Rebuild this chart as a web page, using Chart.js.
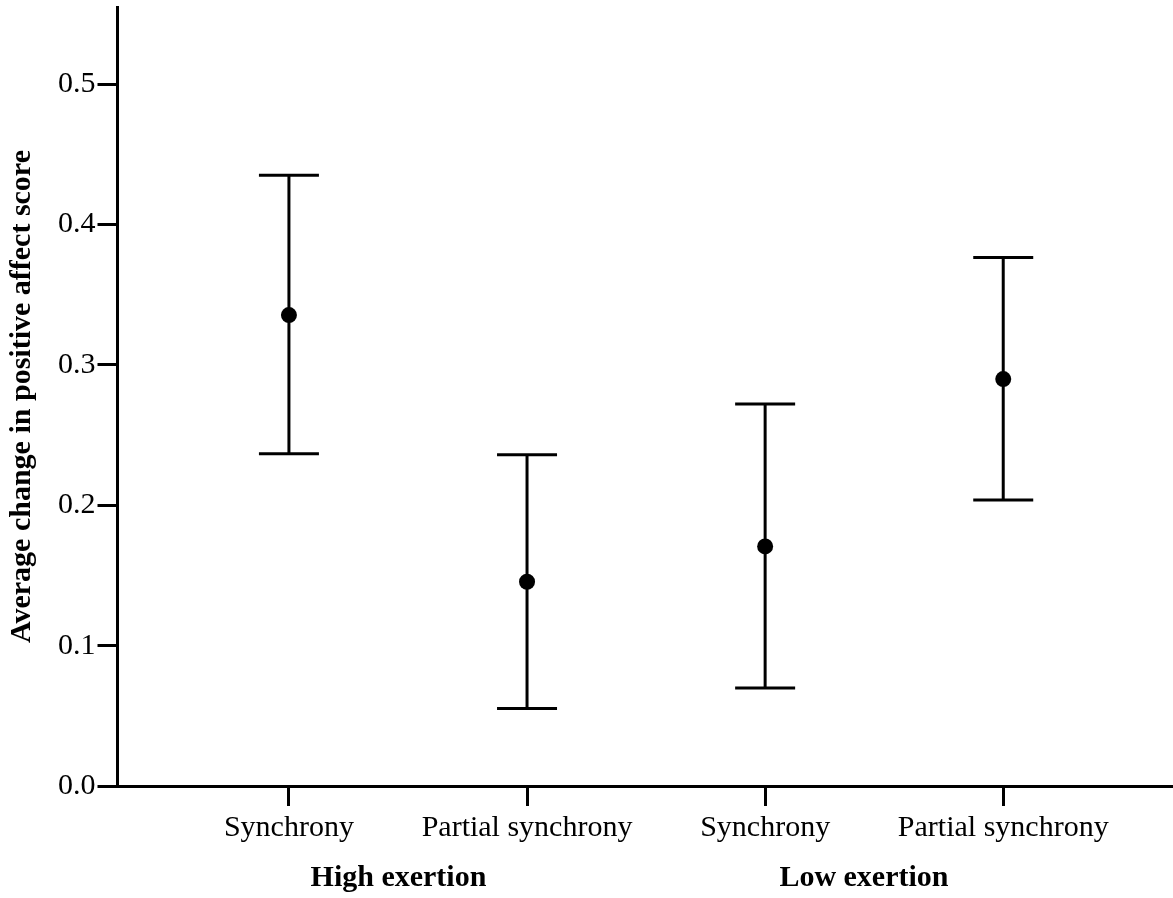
<!DOCTYPE html>
<html>
<head>
<meta charset="utf-8">
<script src="https://cdn.jsdelivr.net/npm/chart.js@4.4.1/dist/chart.umd.min.js"></script>
<style>
    html, body { margin: 0; padding: 0; background: #fff; }
    #wrap { width: 1173px; height: 898px; }
</style>
</head>
<body>
<div id="wrap"><canvas id="grafikAfek" width="1173" height="898"></canvas></div>
<script>
// kategori dan nilai rata-rata dengan batas bawah/atas error bar
const kategori = ['Synchrony', 'Partial synchrony', 'Synchrony', 'Partial synchrony'];
const rataRata = [0.3355, 0.1455, 0.1707, 0.2899];
const batasBawah = [0.2368, 0.0553, 0.0698, 0.2037];
const batasAtas = [0.4352, 0.2360, 0.2721, 0.3766];
const kelompok = ['High exertion', 'Low exertion'];
const posisiKelompok = [0.46, 2.415];
const tickY = [0, 0.1, 0.2, 0.3, 0.4, 0.5];

const hitam = '#000';
const hurufSerif = 'Liberation Serif, Times New Roman, serif';

// label sumbu tidak boleh menambah ruang di tepi area grafik
function tanpaPadding(scale) {
    scale.paddingTop = 0;
    scale.paddingBottom = 0;
    scale.paddingLeft = 0;
    scale.paddingRight = 0;
}

// garis vertikal error bar, satu dataset per kategori
let garisBatang = kategori.map(function (k, i) {
    return {
        type: 'line',
        data: [{ x: i, y: batasBawah[i] }, { x: i, y: batasAtas[i] }],
        borderColor: hitam,
        borderWidth: 3,
        pointRadius: 0,
        order: 3
    };
});

// tutup error bar (atas dan bawah) digambar sebagai titik berbentuk garis
let tutup = {
    type: 'scatter',
    data: kategori.flatMap(function (k, i) {
        return [{ x: i, y: batasBawah[i] }, { x: i, y: batasAtas[i] }];
    }),
    pointStyle: 'line',
    pointRadius: 30,
    pointHoverRadius: 30,
    borderColor: hitam,
    borderWidth: 3,
    order: 2
};

let titikRata = {
    type: 'scatter',
    data: rataRata.map(function (v, i) { return { x: i, y: v }; }),
    pointRadius: 8,
    pointHoverRadius: 8,
    backgroundColor: hitam,
    borderColor: hitam,
    borderWidth: 0,
    order: 1
};

new Chart(document.getElementById('grafikAfek'), {
    type: 'scatter',
    data: {
        datasets: garisBatang.concat([tutup, titikRata])
    },
    options: {
        responsive: false,
        animation: false,
        events: [],
        layout: {
            autoPadding: false,
            padding: { top: 7, left: 4, right: 0, bottom: 0 }
        },
        plugins: {
            legend: { display: false },
            tooltip: { enabled: false }
        },
        scales: {
            x: {
                type: 'linear',
                position: 'bottom',
                weight: 0,
                min: -0.72,
                max: 3.713,
                afterBuildTicks: function (scale) {
                    scale.ticks = kategori.map(function (k, i) { return { value: i }; });
                },
                afterFit: tanpaPadding,
                ticks: {
                    autoSkip: false,
                    maxRotation: 0,
                    padding: 4,
                    color: hitam,
                    font: { family: hurufSerif, size: 30 },
                    callback: function (value) { return kategori[value]; }
                },
                grid: {
                    drawOnChartArea: false,
                    drawTicks: true,
                    tickLength: 20,
                    tickWidth: 3,
                    color: hitam
                },
                border: { display: true, color: hitam, width: 3 }
            },
            grp: {
                type: 'linear',
                position: 'bottom',
                weight: 1,
                min: -0.72,
                max: 3.713,
                afterBuildTicks: function (scale) {
                    scale.ticks = posisiKelompok.map(function (p) { return { value: p }; });
                },
                afterFit: tanpaPadding,
                ticks: {
                    autoSkip: false,
                    maxRotation: 0,
                    padding: 2,
                    color: hitam,
                    font: { family: hurufSerif, size: 30, weight: 'bold' },
                    callback: function (value) {
                        let idx = posisiKelompok.indexOf(value);
                        return kelompok[idx];
                    }
                },
                grid: { display: false },
                border: { display: false }
            },
            y: {
                type: 'linear',
                min: 0,
                max: 0.555,
                afterBuildTicks: function (scale) {
                    scale.ticks = tickY.map(function (v) { return { value: v }; });
                },
                afterFit: tanpaPadding,
                ticks: {
                    padding: 2,
                    color: hitam,
                    // lineHeight kecil supaya label tidak menambah ruang atas/bawah
                    font: { family: hurufSerif, size: 30, lineHeight: 0.1 },
                    callback: function (value) { return value.toFixed(1); }
                },
                grid: {
                    drawOnChartArea: false,
                    drawTicks: true,
                    tickLength: 20,
                    tickWidth: 3,
                    color: hitam
                },
                border: { display: true, color: hitam, width: 3 },
                title: {
                    display: true,
                    text: 'Average change in positive affect score',
                    color: hitam,
                    font: { family: hurufSerif, size: 30, weight: 'bold' },
                    padding: { top: 0, bottom: 16 }
                }
            }
        }
    }
});
</script>
</body>
</html>
